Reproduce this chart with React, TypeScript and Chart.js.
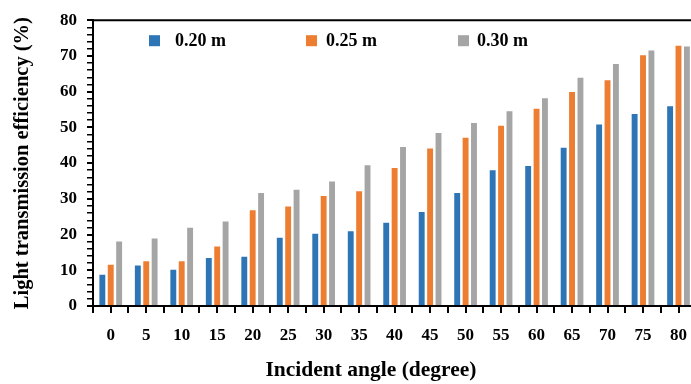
import { useEffect, useRef } from 'react';
import { Chart, registerables } from 'chart.js';

Chart.register(...registerables);

// Incident angle categories (degrees)
const angles = ['0', '5', '10', '15', '20', '25', '30', '35', '40', '45', '50', '55', '60', '65', '70', '75', '80'];

// Light transmission efficiency (%) per pipe length
const eff020 = [9.0, 11.6, 10.4, 13.7, 14.1, 19.4, 20.5, 21.2, 23.6, 26.6, 31.9, 38.3, 39.5, 44.6, 51.1, 54.0, 56.2];
const eff025 = [11.8, 12.8, 12.8, 16.9, 27.1, 28.1, 31.1, 32.4, 38.9, 44.4, 47.4, 50.7, 55.5, 60.2, 63.5, 70.5, 73.1];
const eff030 = [18.3, 19.2, 22.2, 23.9, 31.9, 32.8, 35.1, 39.7, 44.8, 48.7, 51.5, 54.8, 58.4, 64.2, 68.0, 71.8, 72.9];

const seriesLabels = ['0.20 m', '0.25 m', '0.30 m'];
const seriesColors = ['#2E75B6', '#ED7D31', '#A5A5A5'];

const xTitle = 'Incident angle (degree)';
const yTitle = 'Light transmission efficiency (%)';

const yMin = 0;
const yMax = 80;
const yMinorStep = 2;
const yMajorStep = 10;

const serif = "'Liberation Serif', 'Times New Roman', serif";

// Draws the top frame line, the mid-category tick marks, the in-plot legend
// and the horizontal axis title (centred on the figure rather than the plot)
const frameAndLegend = {
  id: 'frameAndLegend',
  afterDraw(chart: any) {
    const { ctx, chartArea } = chart;
    const xs = chart.scales.x;
    ctx.save();
    ctx.strokeStyle = '#000';
    ctx.lineWidth = 2;
    ctx.beginPath();
    ctx.moveTo(chartArea.left - 1, chartArea.top);
    ctx.lineTo(chartArea.right, chartArea.top);
    ctx.stroke();

    ctx.beginPath();
    for (let i = 0; i < angles.length; i++) {
      const px = Math.round(xs.getPixelForTick(i));
      ctx.moveTo(px, chartArea.bottom);
      ctx.lineTo(px, chartArea.bottom + 7);
    }
    ctx.stroke();

    const boxX = [56, 213, 365];
    const textX = [82, 233, 384];
    const cy = chartArea.top + 20;
    ctx.font = `bold 18px ${serif}`;
    ctx.textBaseline = 'middle';
    ctx.textAlign = 'left';
    chart.data.datasets.forEach((ds: any, i: number) => {
      ctx.fillStyle = ds.backgroundColor;
      ctx.fillRect(chartArea.left + boxX[i], cy - 5, 11, 11);
      ctx.fillStyle = '#000';
      ctx.fillText(ds.label, chartArea.left + textX[i], cy + 1);
    });

    ctx.font = `bold 21.5px ${serif}`;
    ctx.textAlign = 'center';
    ctx.fillText(xTitle, 371, xs.bottom - 14);
    ctx.restore();
  },
};

export default function App() {
  const canvasRef = useRef<HTMLCanvasElement | null>(null);

  useEffect(() => {
    const canvas = canvasRef.current;
    if (!canvas) return;
    const series = [eff020, eff025, eff030];
    const chart = new Chart(canvas, {
      type: 'bar',
      data: {
        labels: angles,
        datasets: series.map((values, i) => ({
          label: seriesLabels[i],
          data: values,
          backgroundColor: seriesColors[i],
          borderColor: 'rgba(255,255,255,0.55)',
          borderWidth: 1,
          borderSkipped: 'bottom',
          categoryPercentage: 0.71,
          barPercentage: 0.94,
        })),
      },
      options: {
        responsive: false,
        animation: false,
        devicePixelRatio: 1,
        layout: { padding: { left: 0, right: 0, top: 19, bottom: 0 } },
        plugins: {
          legend: { display: false },
          tooltip: { enabled: false },
        },
        scales: {
          x: {
            grid: {
              display: true,
              drawOnChartArea: false,
              offset: true,
              drawTicks: true,
              tickLength: 7,
              color: '#000',
              lineWidth: 2,
            },
            border: { display: true, color: '#000', width: 2 },
            ticks: {
              color: '#000',
              font: { family: serif, size: 17, weight: 'bold' },
              padding: 12,
              maxRotation: 0,
              autoSkip: false,
            },
            title: { display: false },
            afterFit(scale: any) {
              scale.height = 78;
            },
          },
          y: {
            min: yMin,
            max: yMax,
            grid: {
              display: true,
              drawOnChartArea: false,
              drawTicks: true,
              tickLength: 6,
              color: '#000',
              lineWidth: (c: any) => (c.tick && c.tick.value % yMajorStep === 0 ? 2 : 1.5),
            },
            border: { display: true, color: '#000', width: 2 },
            ticks: {
              stepSize: yMinorStep,
              autoSkip: false,
              color: '#000',
              font: { family: serif, size: 17, weight: 'bold' },
              padding: 10,
              callback: (v: any) => (Number(v) % yMajorStep === 0 ? String(v) : ''),
            },
            title: {
              display: true,
              text: yTitle,
              color: '#000',
              font: { family: serif, size: 20.5, weight: 'bold' },
              padding: { top: 10, bottom: 0 },
            },
            afterFit(scale: any) {
              scale.width = 93;
            },
          },
        },
      },
      plugins: [frameAndLegend],
    });
    return () => chart.destroy();
  }, []);

  return (
    <div
      style={{
        position: 'fixed',
        left: 0,
        top: 0,
        width: 691,
        height: 384,
        overflow: 'hidden',
        background: '#fff',
      }}
    >
      <canvas ref={canvasRef} width={699} height={384} style={{ display: 'block' }} />
    </div>
  );
}
